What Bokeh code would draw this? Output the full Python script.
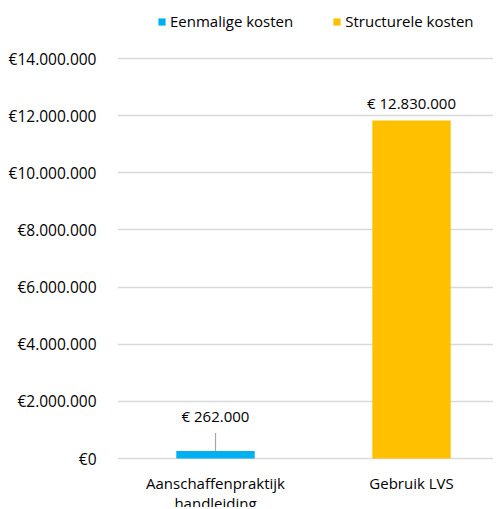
from bokeh.plotting import figure
from bokeh.models import Range1d, FixedTicker, Legend, LegendItem, ColumnDataSource
from bokeh.embed import file_html
from bokeh.resources import INLINE
from bokeh.core.properties import value

# ---- data ----
categories = ["Aanschaffenpraktijk\nhandleiding", "Gebruik LVS"]
series_names = ["Eenmalige kosten", "Structurele kosten"]
bar_values = [262000, 11830000]
bar_labels = ["€ 262.000", "€ 12.830.000"]
y_ticks = [0, 2000000, 4000000, 6000000, 8000000, 10000000, 12000000, 14000000]
y_tick_labels = ["€0", "€2.000.000", "€4.000.000", "€6.000.000", "€8.000.000",
                 "€10.000.000", "€12.000.000", "€14.000.000"]

# ---- style / layout ----
colors = ["#00B0F0", "#FFC000"]
FONT = "Open Sans"
FS = "15px"
grid_color = "#D9D9D9"
label_offsets = [-25, -8]
line_step = 20

W, H = 493, 507
left_border = 117
top_px, zero_px = 58, 458        # canvas y of top tick and of zero
band_px = 196
y_max = y_ticks[-1]
units_per_px = y_max / (zero_px - top_px)
y_start = -(H - zero_px) * units_per_px
y_end = y_max + top_px * units_per_px
x_end = (W - left_border) / band_px - 0.5

p = figure(width=W, height=H, output_backend="svg", toolbar_location=None,
           x_range=Range1d(-0.5, x_end), y_range=Range1d(y_start, y_end),
           min_border_left=left_border, min_border_top=0,
           min_border_bottom=0, min_border_right=0)
p.outline_line_color = None
p.background_fill_color = "white"
p.border_fill_color = "white"
p.xaxis.visible = False

xs = list(range(len(categories)))
renderers = []
for i in xs:
    src = ColumnDataSource(dict(x=[xs[i]], top=[bar_values[i]]))
    r = p.vbar(x="x", top="top", bottom=0, width=0.4, source=src,
               fill_color=colors[i], line_color=None)
    renderers.append(r)

# leader line for first label
p.segment(x0=[xs[0]], y0=[bar_values[0]], x1=[xs[0]],
          y1=[bar_values[0] + 18 * units_per_px], line_color="#A6A6A6", line_width=1.2)

for i in xs:
    p.text(x=[xs[i]], y=[bar_values[i]], text=[bar_labels[i]], text_align="center",
           text_baseline="bottom", y_offset=label_offsets[i],
           text_font=value(FONT), text_font_size=FS, text_color="#000000")

# category labels (one text per line)
for i in xs:
    for k, line in enumerate(categories[i].split("\n")):
        p.text(x=[xs[i]], y=[0], text=[line], text_align="center",
               text_baseline="top", y_offset=14 + k * line_step,
               text_font=value(FONT), text_font_size=FS, text_color="#000000")

# y axis
p.yaxis.ticker = FixedTicker(ticks=y_ticks)
p.yaxis.major_label_overrides = {t: l for t, l in zip(y_ticks, y_tick_labels)}
p.yaxis.axis_line_color = None
p.yaxis.major_tick_line_color = None
p.yaxis.minor_tick_line_color = None
p.yaxis.major_tick_out = 0
p.yaxis.major_tick_in = 0
p.yaxis.major_label_standoff = 21
p.yaxis.major_label_text_font = FONT
p.yaxis.major_label_text_font_size = "15.5px"
p.yaxis.major_label_text_color = "#000000"

p.xgrid.grid_line_color = None
p.ygrid.grid_line_color = grid_color
p.ygrid.grid_line_width = 1.5

legend = Legend(items=[LegendItem(label=series_names[i], renderers=[renderers[i]]) for i in xs],
                location=(40, H - 31), orientation="horizontal", padding=0, margin=0,
                spacing=39, label_standoff=4, glyph_width=9, glyph_height=9,
                border_line_alpha=0, background_fill_alpha=0,
                label_text_font=FONT, label_text_font_size=FS, label_text_color="#000000")
p.add_layout(legend, "center")

open("out.html", "w").write(file_html(p, INLINE))
